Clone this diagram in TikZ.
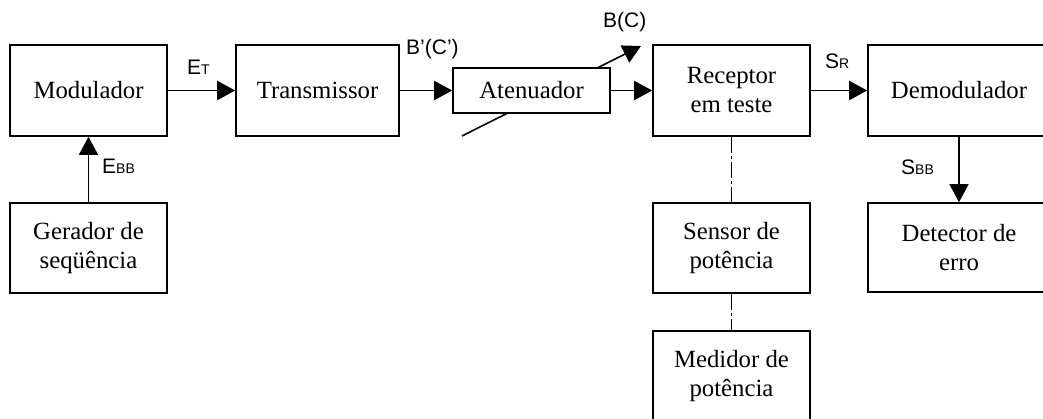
\documentclass[tikz,border=0pt]{standalone}
\usepackage{fontspec}
\setmainfont{Liberation Serif}
\newfontfamily\lblfont{Liberation Sans}
\usetikzlibrary{arrows.meta}
\newcommand{\subtxt}[1]{{\fontsize{14}{16}\selectfont #1}}
\begin{document}
\begin{tikzpicture}[x=1pt,y=-1pt,
  blk/.style={draw,line width=1.6pt,fill=white,minimum width=157pt,minimum height=91pt,
    inner sep=0pt,align=center,font=\fontsize{24.75}{29}\selectfont},
  conn/.style={line width=1.6pt,-{Triangle[length=18pt,width=19pt]}},
  dotline/.style={line width=1.6pt,dash pattern=on 16pt off 3pt on 3pt off 3pt},
  lbl/.style={anchor=base west,inner sep=0pt,font=\lblfont\fontsize{21}{24}\selectfont}]
\clip (0,0) rectangle (1043,418);
\fill[white] (0,0) rectangle (1043,418);
% diagonal behind attenuator
\coordinate (dstart) at (462,136);
\coordinate (dend) at (641,46);
\draw[conn] (dstart) -- (dend);
\node[blk] (mod) at (88.5,90.5) {Modulador};
\node[blk,minimum width=163pt] (tx) at (317.5,90.5) {Transmissor};
\node[blk,minimum height=45pt] (att) at (531.5,90.5) {Atenuador};
\node[blk] (rec) at (731.5,90.5) {Receptor\\em teste};
\node[blk,minimum width=182pt] (dem) at (959,90.5) {Demodulador};
\node[blk,minimum height=90pt] (ger) at (88.5,248) {Gerador de\\seqüência};
\node[blk,minimum height=90pt] (sen) at (731.5,248) {Sensor de\\potência};
\node[blk,minimum width=182pt,minimum height=89pt] (det) at (959,247.5) {Detector de\\erro};
\node[blk] (med) at (731.5,376.5) {Medidor de\\potência};
% connectors
\draw[conn] (mod) -- (tx);
\draw[conn] (tx) -- (att);
\draw[conn] (att) -- (rec);
\draw[conn] (rec) -- (dem);
\draw[conn] (ger) -- (mod);
\draw[conn] (dem) -- (det);
\draw[dotline] (rec.south) -- (sen.north);
\draw[dotline] (sen.south) -- (med.north);
% labels
\node[lbl] (let) at (187,74.3) {E\subtxt{T}};
\node[lbl] (lebb) at (102,173) {E\subtxt{BB}};
\node[lbl] (lbc1) at (406,54) {B’(C’)};
\node[lbl] (lbc) at (603,27) {B(C)};
\node[lbl] (lsr) at (825,68) {S\subtxt{R}};
\node[lbl] (lsbb) at (901,174) {S\subtxt{BB}};
\end{tikzpicture}
\end{document}
